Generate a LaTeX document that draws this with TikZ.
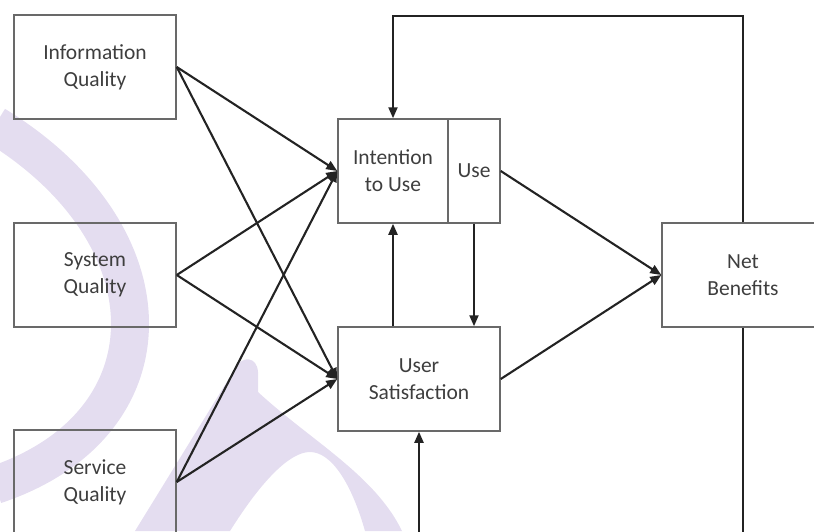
\documentclass[tikz,border=0pt]{standalone}
\usepackage{fontspec}
\setmainfont{Carlito}
\usetikzlibrary{arrows.meta}
\definecolor{wm}{RGB}{228,221,240}
\definecolor{ln}{RGB}{35,35,35}
\definecolor{bx}{RGB}{105,105,105}
\definecolor{tx}{RGB}{62,62,62}
\begin{document}
\begin{tikzpicture}[x=1pt,y=-1pt,
  box/.style={draw=bx, line width=1.5pt, minimum width=162pt, minimum height=104pt,
    align=center, text=tx, font=\fontsize{21.5}{27}\selectfont, inner sep=0pt},
  conn/.style={draw=ln, line width=2.1pt},
  arr/.style={conn, -{Triangle[length=11pt,width=9pt]}}]
\useasboundingbox (0,0) rectangle (814,531);
\clip (0,0) rectangle (814,531);
% watermark
\draw[wm, line width=38pt] (-5,125) .. controls (175,235) and (175,425) .. (-5,485);
\fill[wm] (135,531) -- (236,367) .. controls (242,356) and (257,356) .. (258,372) -- (258,392)
  .. controls (310,440) and (375,475) .. (402,531) -- (365,531)
  .. controls (352,485) and (332,452) .. (310,452)
  .. controls (290,452) and (262,480) .. (230,531) -- cycle;
% nodes
\node[box] (iq) at (95,67) {Information\\Quality};
\node[box] (sq) at (95,275) {System\\Quality};
\node[box] (svq) at (95,482) {Service\\Quality};
\node[box, minimum width=110pt] (itu) at (393,171) {Intention\\to Use};
\node[box, minimum width=52pt] (use) at (474,171) {Use};
\node[box] (us) at (419,379) {User\\Satisfaction};
\node[box] (nb) at (743,275) {Net\\Benefits};
% connectors
\foreach \s in {iq,sq,svq}{
  \draw[arr] (\s.east) -- (itu.west);
  \draw[arr] (\s.east) -- (us.west);
}
\draw[arr] (use.east) -- (nb.west);
\draw[arr] (us.east) -- (nb.west);
\draw[arr] (us.north -| itu.south) -- (itu.south);
\draw[arr] (use.south) -- (use.south |- us.north);
\coordinate (tr) at (743,16);
\coordinate (tl) at (393,16);
\draw[arr] (nb.north) -- (tr) -- (tl) -- (itu.north);
\coordinate (br) at (743,545);
\coordinate (bl) at (419,545);
\draw[arr] (nb.south) -- (br) -- (bl) -- (us.south);
\end{tikzpicture}
\end{document}
